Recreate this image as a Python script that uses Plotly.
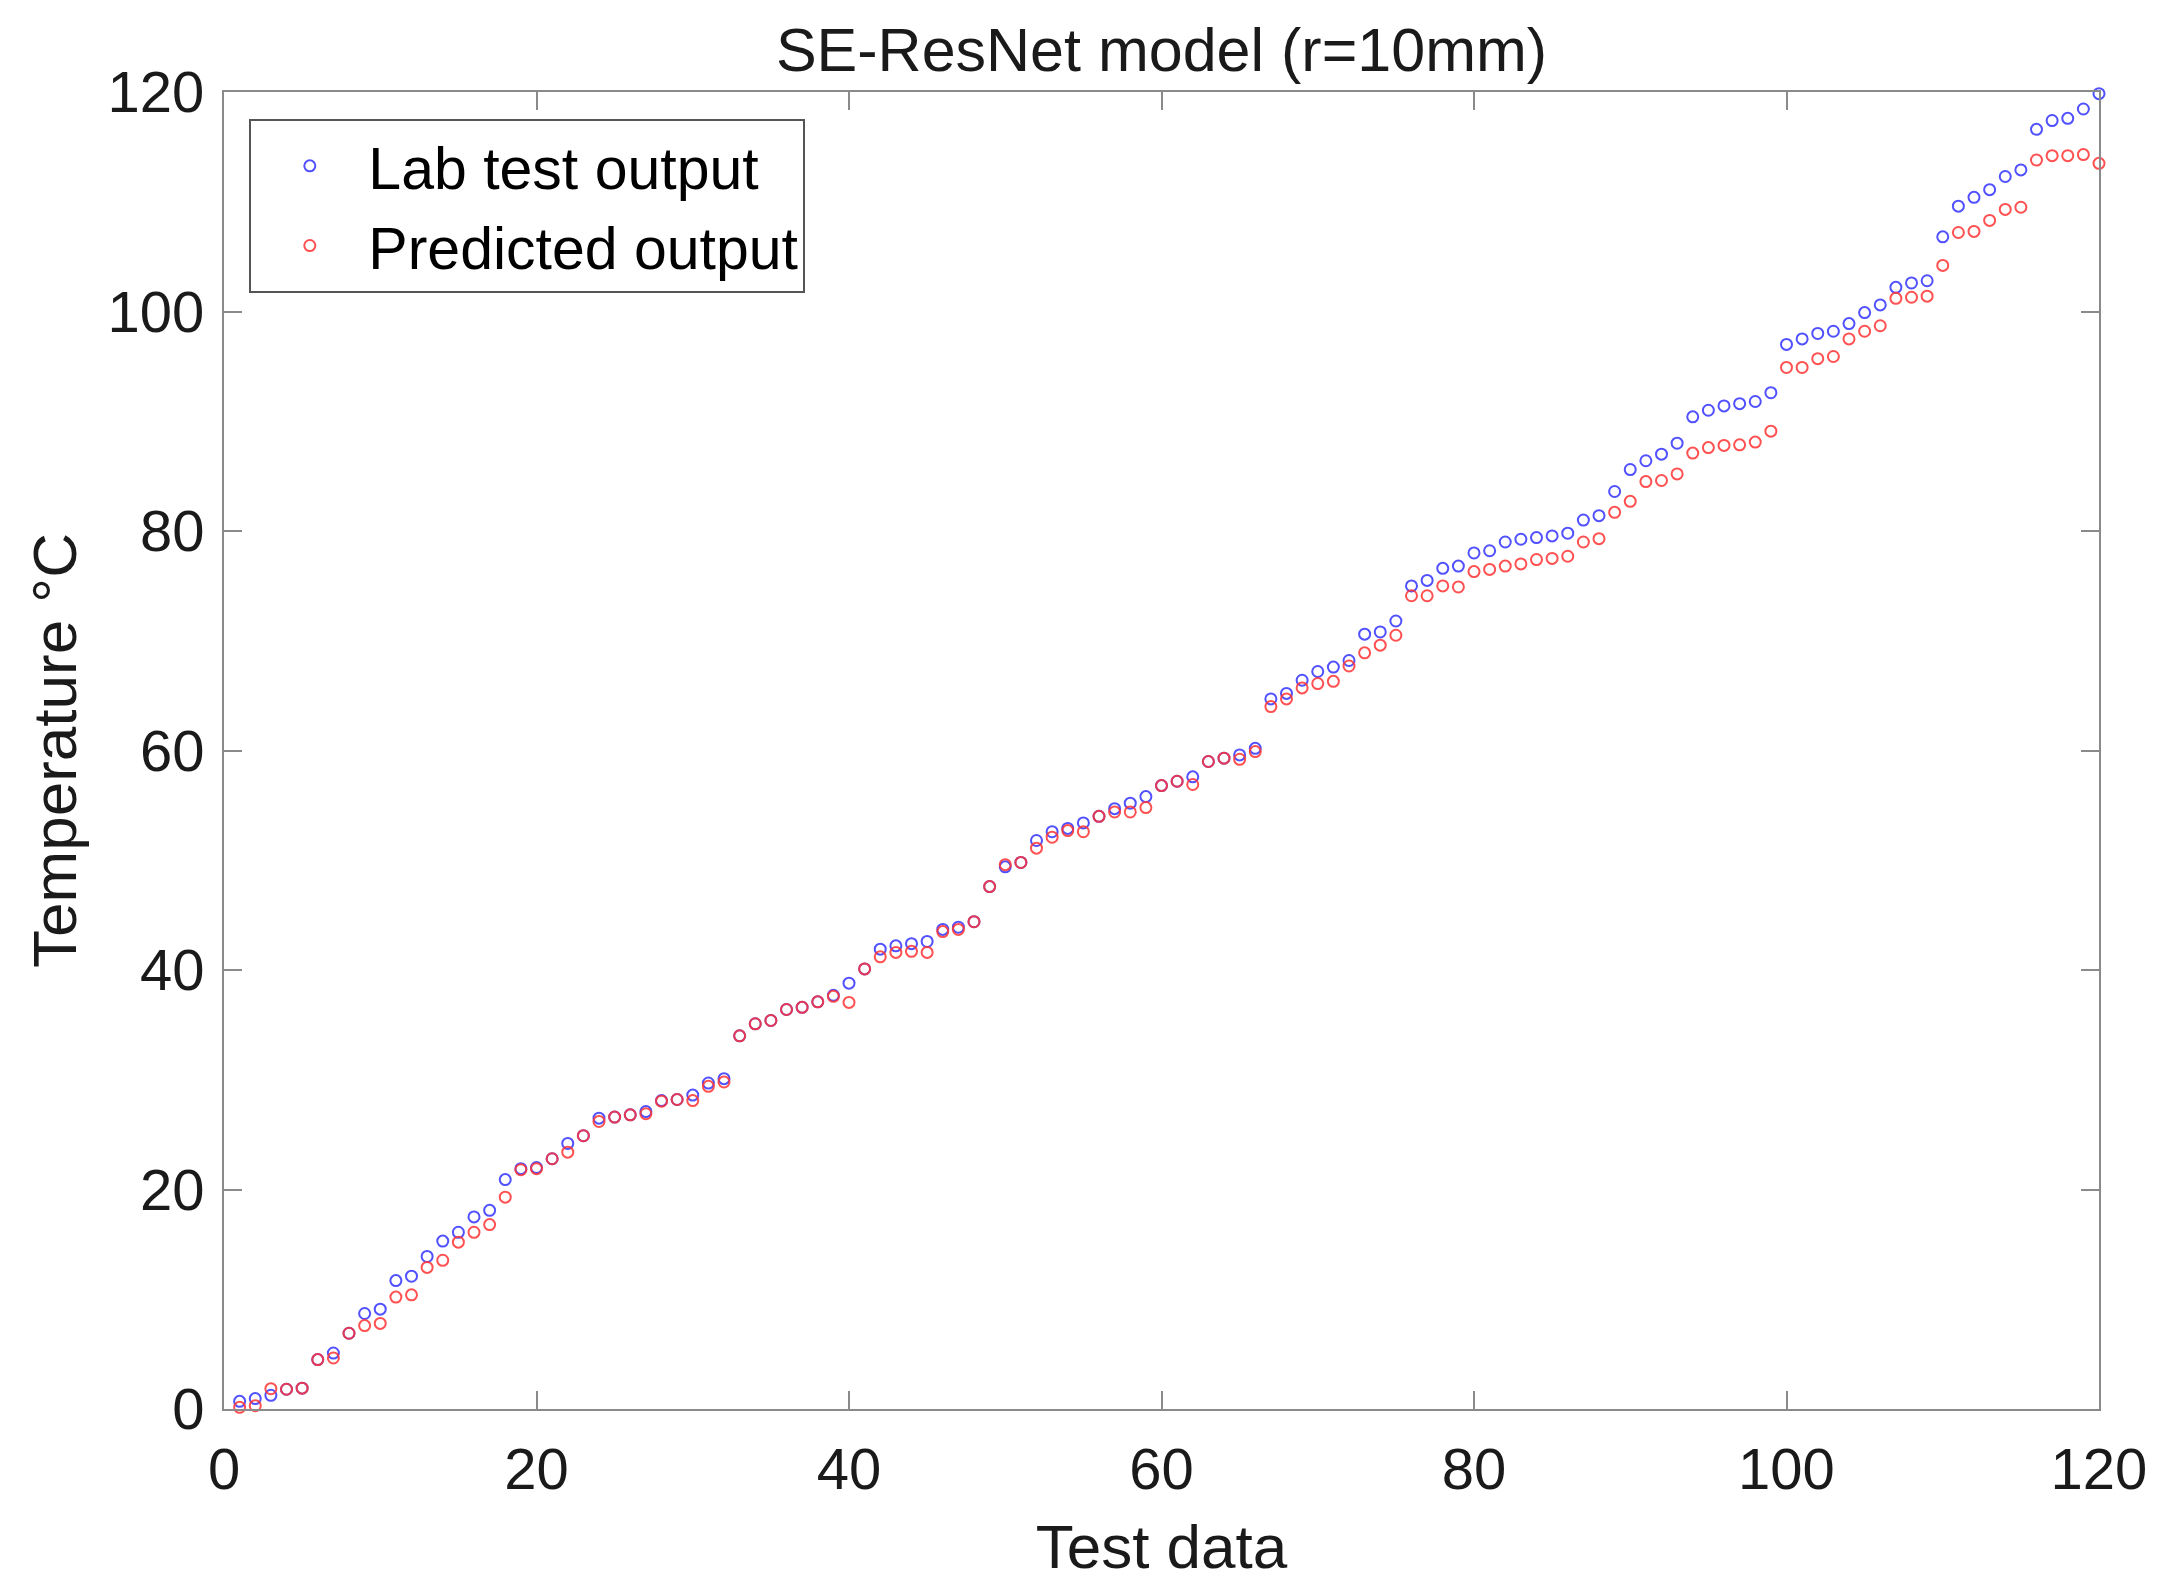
import plotly.graph_objects as go

test_index = list(range(1, 121))

lab_test_output = [
    0.7, 0.95, 1.25, 1.8, 1.9, 4.5, 5.1, 6.9, 8.7, 9.1,
    11.7, 12.1, 13.9, 15.3, 16.1, 17.5, 18.1, 20.9, 21.9, 22.0,
    22.8, 24.2, 24.9, 26.5, 26.6, 26.8, 27.1, 28.1, 28.2, 28.6,
    29.7, 30.1, 34.0, 35.1, 35.4, 36.4, 36.6, 37.1, 37.7, 38.8,
    40.1, 41.9, 42.2, 42.4, 42.6, 43.7, 43.9, 44.4, 47.6, 49.4,
    49.8, 51.8, 52.6, 52.9, 53.4, 54.0, 54.7, 55.2, 55.8, 56.8,
    57.2, 57.6, 59.0, 59.3, 59.6, 60.2, 64.7, 65.2, 66.4, 67.2,
    67.6, 68.2, 70.6, 70.8, 71.8, 75.0, 75.5, 76.6, 76.8, 78.0,
    78.2, 79.0, 79.25, 79.4, 79.55, 79.8, 81.0, 81.4, 83.6, 85.6,
    86.4, 87.0, 88.0, 90.4, 91.0, 91.4, 91.6, 91.8, 92.6, 97.0,
    97.5, 98.0, 98.2, 98.9, 99.9, 100.6, 102.2, 102.6, 102.8, 106.8,
    109.6, 110.4, 111.1, 112.3, 112.9, 116.6, 117.4, 117.6, 118.45, 119.85,
]

predicted_output = [
    0.15, 0.3, 1.85, 1.8, 1.9, 4.5, 4.65, 6.9, 7.6, 7.8,
    10.2, 10.4, 12.9, 13.55, 15.2, 16.1, 16.8, 19.3, 21.8, 21.9,
    22.8, 23.4, 24.9, 26.2, 26.6, 26.8, 26.9, 28.05, 28.2, 28.1,
    29.4, 29.8, 34.0, 35.1, 35.4, 36.4, 36.6, 37.1, 37.6, 37.05,
    40.1, 41.2, 41.6, 41.7, 41.6, 43.5, 43.7, 44.4, 47.6, 49.6,
    49.8, 51.1, 52.1, 52.7, 52.6, 54.0, 54.4, 54.4, 54.8, 56.8,
    57.2, 56.9, 59.0, 59.3, 59.2, 59.9, 64.0, 64.7, 65.7, 66.1,
    66.3, 67.7, 68.9, 69.6, 70.5, 74.1, 74.1, 75.0, 74.9, 76.3,
    76.5, 76.8, 77.0, 77.4, 77.5, 77.7, 79.0, 79.3, 81.7, 82.7,
    84.5, 84.6, 85.2, 87.1, 87.6, 87.8, 87.85, 88.1, 89.1, 94.9,
    94.9, 95.7, 95.9, 97.5, 98.2, 98.7, 101.2, 101.3, 101.4, 104.2,
    107.2, 107.3, 108.3, 109.3, 109.5, 113.8, 114.2, 114.2, 114.3, 113.5,
]

tick_vals = [0, 20, 40, 60, 80, 100, 120]

FONT = "Liberation Sans, Arial, Helvetica, sans-serif"
TXT = "#1a1a1a"
AXC = "#8a8a8a"

fig = go.Figure()
fig.add_trace(go.Scatter(
    x=test_index, y=lab_test_output, mode="markers", name="Lab test output",
    marker=dict(symbol="circle-open", size=11, color="rgba(50,50,255,0.85)",
                line=dict(width=2)),
    cliponaxis=False,
))
fig.add_trace(go.Scatter(
    x=test_index, y=predicted_output, mode="markers", name="Predicted output",
    marker=dict(symbol="circle-open", size=11, color="rgba(255,50,50,0.85)",
                line=dict(width=2)),
    cliponaxis=False,
))

axis_common = dict(
    range=[0, 120], tickvals=tick_vals, showgrid=False, zeroline=False,
    showline=True, linecolor=AXC, linewidth=2, mirror="ticks",
    ticks="inside", ticklen=18, tickwidth=2, tickcolor=AXC,
    tickfont=dict(family=FONT, size=58, color=TXT),
)

fig.update_layout(
    width=2166, height=1594,
    paper_bgcolor="white", plot_bgcolor="white",
    margin=dict(l=216, r=75, t=84, b=193),
    title=dict(text="SE-ResNet model (r=10mm)", x=0.5, xref="paper",
               y=1 - 42 / 1594, yref="container", yanchor="middle",
               xanchor="center", font=dict(family=FONT, size=61, color=TXT)),
    xaxis=dict(**axis_common, ticklabelstandoff=8,
               title=dict(text="Test data", standoff=25,
                          font=dict(family=FONT, size=62, color=TXT))),
    yaxis=dict(**axis_common, ticklabelstandoff=6,
               title=dict(text="Temperature °C", standoff=11,
                          font=dict(family=FONT, size=62, color=TXT))),
    legend=dict(x=0.0135, y=0.9795, xanchor="left", yanchor="top",
                bgcolor="white", bordercolor="#555555", borderwidth=2,
                font=dict(family=FONT, size=59, color="#000000"),
                itemwidth=107, tracegroupgap=0),
    showlegend=True,
)

fig.write_html("out.html")
